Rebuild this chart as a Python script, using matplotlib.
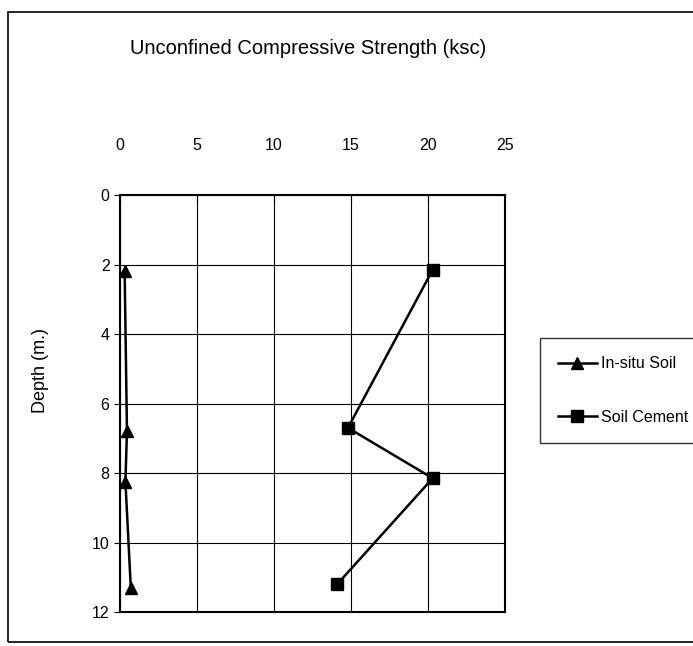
#!/usr/bin/env python3

import numpy as np
import matplotlib
matplotlib.use("Agg")
import matplotlib.pyplot as plt
from matplotlib.patches import Rectangle

# depth (m.) and strength (ksc)
insitu_depth = [2.2, 6.8, 8.25, 11.3]
insitu_ucs = [0.3, 0.45, 0.35, 0.7]
cement_depth = [2.15, 6.7, 8.15, 11.2]
cement_ucs = [20.3, 14.8, 20.3, 14.1]

x_ticks = [0, 5, 10, 15, 20, 25]
y_ticks = [0, 2, 4, 6, 8, 10, 12]

arial = ["Liberation Sans", "DejaVu Sans"]

fig = plt.figure(figsize=(6.93, 6.46), dpi=100)
ax = fig.add_axes([0.1732, 0.0526, 0.5556, 0.6455])

ax.plot(insitu_ucs, insitu_depth, color="black", linewidth=1.8,
        marker="^", markersize=8, label="In-situ Soil")
ax.plot(cement_ucs, cement_depth, color="black", linewidth=1.8,
        marker="s", markersize=8, label="Soil Cement")

ax.set_xlim(0, 25)
ax.set_ylim(12, 0)
ax.set_xticks(x_ticks)
ax.set_yticks(y_ticks)
ax.grid(True, color="black", linewidth=0.8)
for s in ax.spines.values():
    s.set_linewidth(1.5)

ax.tick_params(axis="x", top=True, labeltop=True, bottom=False, labelbottom=False,
               direction="in", length=6, pad=30, labelsize=11.5)
ax.tick_params(axis="y", direction="out", length=4, labelsize=11.5)
for lab in ax.get_xticklabels() + ax.get_yticklabels():
    lab.set_family(arial)

fig.text(0.445, 0.925, "Unconfined Compressive Strength (ksc)",
         ha="center", va="center", fontsize=14.5, family=arial)
fig.text(0.058, 0.427, "Depth (m.)", rotation=90, ha="center", va="center",
         fontsize=13, family=arial)

leg = fig.legend(loc="upper left", bbox_to_anchor=(0.779, 0.477),
                 frameon=True, fancybox=False, edgecolor="black",
                 prop={"family": arial, "size": 11.5},
                 labelspacing=2.4, borderpad=1.15, borderaxespad=0,
                 handlelength=2.4, handletextpad=0.3)
leg.get_frame().set_linewidth(1.0)

# page border from the scan
fig.patches.append(Rectangle((0.0115, 0.006), 1.2, 0.975, transform=fig.transFigure,
                             fill=False, edgecolor="black", linewidth=1.2))

fig.savefig("out.png", dpi=100)
